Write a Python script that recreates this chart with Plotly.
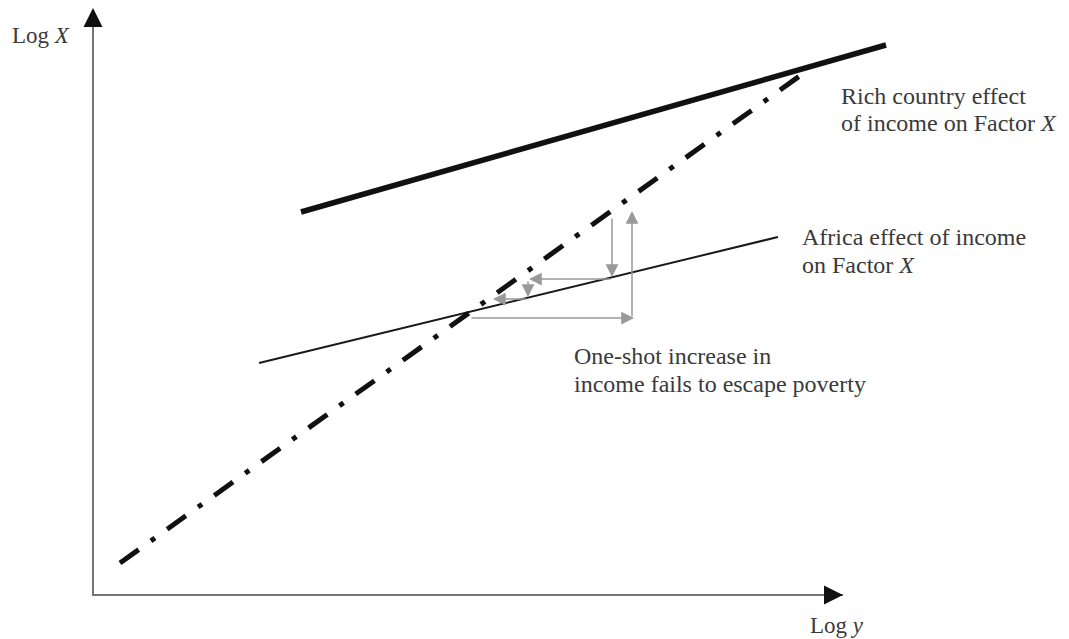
import plotly.graph_objects as go

# Model coordinates: origin at the corner of the axes (Log y, Log X)
axis_x_end = 750
axis_y_end = 587

# Schedules (Log y, Log X)
rich_x = [208, 793]
rich_y = [383, 550]
africa_x = [166, 685]
africa_y = [232, 358]
diag_x = [27, 715]
diag_y = [32, 525]

# Cobweb arrows: (tail_x, tail_y, head_x, head_y)
arrows = [
    (377, 277, 541, 277),
    (539, 277, 539, 384),
    (519, 378, 519, 318),
    (519, 316, 436, 316),
    (435, 315, 435, 298),
    (435, 296, 400, 296),
]

labels = [
    ("Rich country effect", 746, 499),
    ("of income on Factor <i>X</i>", 746, 472),
    ("Africa effect of income", 707, 358),
    ("on Factor <i>X</i>", 707, 330),
    ("One-shot increase in", 479, 239),
    ("income fails to escape poverty", 479, 211),
]

font_family = "Liberation Serif, Times New Roman, serif"
text_color = "#3a3a3a"

fig = go.Figure()

# axes
fig.add_trace(go.Scatter(x=[0, 0, axis_x_end], y=[axis_y_end - 8, 0, 0], mode="lines",
                         line=dict(color="#777777", width=2), hoverinfo="skip"))

fig.add_trace(go.Scatter(x=rich_x, y=rich_y, mode="lines",
                         line=dict(color="#111111", width=5.5), hoverinfo="skip"))
fig.add_trace(go.Scatter(x=africa_x, y=africa_y, mode="lines",
                         line=dict(color="#1a1a1a", width=2), hoverinfo="skip"))
fig.add_trace(go.Scatter(x=diag_x, y=diag_y, mode="lines",
                         line=dict(color="#111111", width=5, dash="23px,15px,5px,15px"),
                         hoverinfo="skip"))

annotations = []
for tx, ty, hx, hy in arrows:
    annotations.append(dict(x=hx, y=hy, ax=tx, ay=ty, xref="x", yref="y", axref="x", ayref="y",
                            text="", showarrow=True, arrowhead=2, arrowsize=1.7, arrowwidth=1.5,
                            arrowcolor="#999999", standoff=0))

# axis arrowheads
annotations.append(dict(x=0, y=axis_y_end, ax=0, ay=axis_y_end - 12, xref="x", yref="y",
                        axref="x", ayref="y", text="", showarrow=True, arrowhead=2,
                        arrowsize=1.9, arrowwidth=2, arrowcolor="#111111"))
annotations.append(dict(x=axis_x_end, y=0, ax=axis_x_end - 12, ay=0, xref="x", yref="y",
                        axref="x", ayref="y", text="", showarrow=True, arrowhead=2,
                        arrowsize=1.9, arrowwidth=2, arrowcolor="#111111"))

for txt, lx, ly in labels:
    annotations.append(dict(x=lx, y=ly, xref="x", yref="y", text=txt, showarrow=False,
                            xanchor="left", yanchor="middle",
                            font=dict(family=font_family, size=24, color=text_color)))

annotations.append(dict(x=-83, y=560, xref="x", yref="y", text="Log <i>X</i>", showarrow=False,
                        xanchor="left", yanchor="middle",
                        font=dict(family=font_family, size=23, color=text_color)))
annotations.append(dict(x=715, y=-30, xref="x", yref="y", text="Log <i>y</i>", showarrow=False,
                        xanchor="left", yanchor="middle",
                        font=dict(family=font_family, size=23, color=text_color)))

# The page places the figure 8px from the top-left corner
fig.update_layout(
    width=1061, height=631,
    margin=dict(l=0, r=0, t=0, b=0),
    paper_bgcolor="white", plot_bgcolor="white",
    showlegend=False,
    xaxis=dict(range=[-85, 976], visible=False, fixedrange=True),
    yaxis=dict(range=[-44, 587], visible=False, fixedrange=True),
    annotations=annotations,
)

fig.write_html("out.html")
